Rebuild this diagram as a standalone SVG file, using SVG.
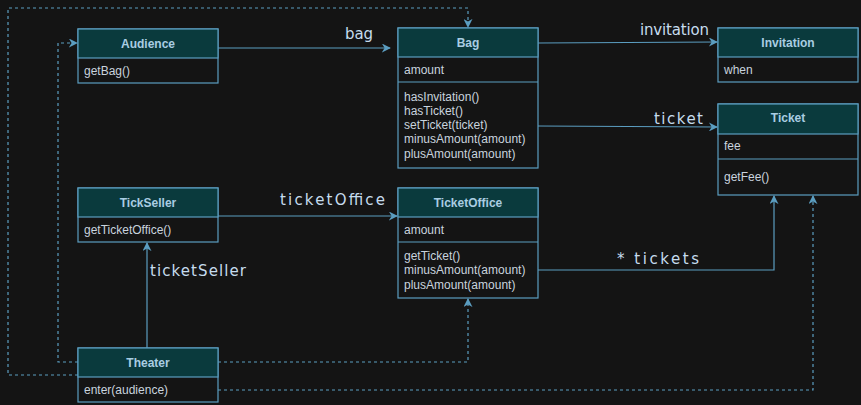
<svg xmlns="http://www.w3.org/2000/svg" width="861" height="405" viewBox="0 0 861 405">
<style>
.hdr{fill:#0a3a3d;stroke:#5b9dc0;stroke-width:1.2}
.box{fill:#141414;stroke:#5b9dc0;stroke-width:1.2}
.sep{stroke:#5b9dc0;stroke-width:1.2}
.title{font-family:"Liberation Sans",Arial,sans-serif;font-size:12px;font-weight:bold;fill:#a9cde2;text-anchor:middle}
.txt{font-family:"Liberation Sans",Arial,sans-serif;font-size:12px;fill:#c9d3de}
.ln{fill:none;stroke:#5b9dc0;stroke-width:1.2}
.dash{fill:none;stroke:#5b9dc0;stroke-width:1.2;stroke-dasharray:3 3}
.lbl{font-family:"Comic Sans MS","DejaVu Sans",sans-serif;font-size:15px;fill:#c6dcee}
</style>
<defs>
<marker id="arr" viewBox="0 0 10 10" refX="9" refY="5" markerWidth="9" markerHeight="9" markerUnits="userSpaceOnUse" orient="auto">
<path d="M0,0 L10,5 L0,10 L3,5 Z" fill="#5b9dc0"/>
</marker>
</defs>
<rect width="861" height="405" fill="#141414"/>
<g id="connectors">
<line class="ln" x1="218" y1="48" x2="390" y2="48" marker-end="url(#arr)"/>
<text class="lbl" x="345" y="39" textLength="28" lengthAdjust="spacing">bag</text>
<line class="ln" x1="538" y1="43" x2="717" y2="42" marker-end="url(#arr)"/>
<text class="lbl" x="640" y="35" textLength="69" lengthAdjust="spacing">invitation</text>
<line class="ln" x1="538" y1="126" x2="717" y2="127" marker-end="url(#arr)"/>
<text class="lbl" x="654" y="124" textLength="49" lengthAdjust="spacing">ticket</text>
<line class="ln" x1="218" y1="216" x2="397" y2="216" marker-end="url(#arr)"/>
<text class="lbl" x="280" y="205" textLength="105" lengthAdjust="spacing">ticketOffice</text>
<polyline class="ln" points="538,270 774,270 774,196" marker-end="url(#arr)"/>
<text class="lbl" x="617" y="264" textLength="82" lengthAdjust="spacing">* tickets</text>
<line class="ln" x1="147" y1="348" x2="147" y2="243" marker-end="url(#arr)"/>
<text class="lbl" x="150" y="276" textLength="96" lengthAdjust="spacing">ticketSeller</text>
<polyline class="dash" points="218,390 813,390 813,196" marker-end="url(#arr)"/>
<polyline class="dash" points="218,362 468,362 468,299" marker-end="url(#arr)"/>
<polyline class="dash" points="78,362 58,362 58,43 77,43" marker-end="url(#arr)"/>
<polyline class="dash" points="78,375 8,375 8,8 468,8 468,27" marker-end="url(#arr)"/>
</g>
<g id="audience">
<rect class="box" x="78" y="29" width="140" height="54"/>
<rect class="hdr" x="78" y="29" width="140" height="29"/>
<text class="title" x="148" y="48">Audience</text>
<text class="txt" x="84" y="75">getBag()</text>
</g>
<g id="bag">
<rect class="box" x="398" y="28" width="140" height="140"/>
<rect class="hdr" x="398" y="28" width="140" height="29"/>
<text class="title" x="468" y="47">Bag</text>
<text class="txt" x="404" y="74">amount</text>
<line class="sep" x1="398" y1="82" x2="538" y2="82"/>
<text class="txt" x="404" y="101">hasInvitation()</text>
<text class="txt" x="404" y="115">hasTicket()</text>
<text class="txt" x="404" y="129">setTicket(ticket)</text>
<text class="txt" x="404" y="143">minusAmount(amount)</text>
<text class="txt" x="404" y="158">plusAmount(amount)</text>
</g>
<g id="invitation">
<rect class="box" x="718" y="28" width="140" height="54"/>
<rect class="hdr" x="718" y="28" width="140" height="29"/>
<text class="title" x="788" y="47">Invitation</text>
<text class="txt" x="724" y="74">when</text>
</g>
<g id="ticket">
<rect class="box" x="718" y="104" width="140" height="91"/>
<rect class="hdr" x="718" y="104" width="140" height="30"/>
<text class="title" x="788" y="122">Ticket</text>
<text class="txt" x="724" y="150">fee</text>
<line class="sep" x1="718" y1="159" x2="858" y2="159"/>
<text class="txt" x="724" y="181">getFee()</text>
</g>
<g id="tickseller">
<rect class="box" x="78" y="188" width="140" height="54"/>
<rect class="hdr" x="78" y="188" width="140" height="29"/>
<text class="title" x="148" y="207">TickSeller</text>
<text class="txt" x="84" y="234">getTicketOffice()</text>
</g>
<g id="ticketoffice">
<rect class="box" x="398" y="188" width="140" height="110"/>
<rect class="hdr" x="398" y="188" width="140" height="29"/>
<text class="title" x="468" y="207">TicketOffice</text>
<text class="txt" x="404" y="234">amount</text>
<line class="sep" x1="398" y1="242" x2="538" y2="242"/>
<text class="txt" x="404" y="260">getTicket()</text>
<text class="txt" x="404" y="274">minusAmount(amount)</text>
<text class="txt" x="404" y="289">plusAmount(amount)</text>
</g>
<g id="theater">
<rect class="box" x="78" y="348" width="140" height="54"/>
<rect class="hdr" x="78" y="348" width="140" height="29"/>
<text class="title" x="148" y="367">Theater</text>
<text class="txt" x="84" y="394">enter(audience)</text>
</g>
</svg>
